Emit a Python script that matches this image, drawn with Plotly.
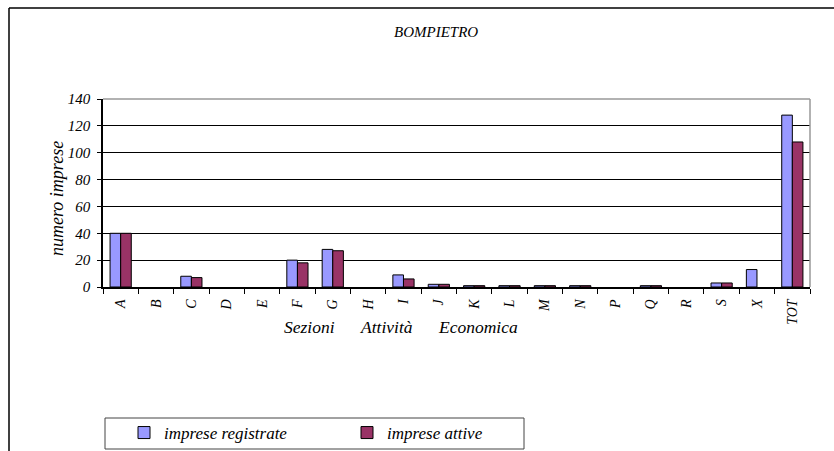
import plotly.graph_objects as go

categories = ["A", "B", "C", "D", "E", "F", "G", "H", "I", "J", "K", "L", "M", "N", "P", "Q", "R", "S", "X", "TOT"]
registrate = [40, 0, 8, 0, 0, 20, 28, 0, 9, 2, 1, 1, 1, 1, 0, 1, 0, 3, 13, 128]
attive = [40, 0, 7, 0, 0, 18, 27, 0, 6, 2, 1, 1, 1, 1, 0, 1, 0, 3, 0, 108]
y_ticks = [0, 20, 40, 60, 80, 100, 120, 140]

FONT = "Liberation Serif, Times New Roman, Times, serif"
W, H = 834, 451
L, R, T, B = 103, 24, 99, 164
PW, PH = W - L - R, H - T - B


def px(x):
    return (x - L) / PW


def py(y):
    return (H - B - y) / PH


def outline(vals):
    # no visible outline for empty (zero) bars
    return [1 if v > 0 else 0 for v in vals]


fig = go.Figure()
fig.add_trace(go.Bar(x=categories, y=registrate, name="imprese registrate",
                     marker=dict(color="#9999FF", line=dict(color="black", width=outline(registrate)))))
fig.add_trace(go.Bar(x=categories, y=attive, name="imprese attive",
                     marker=dict(color="#993366", line=dict(color="black", width=outline(attive)))))

shapes = [
    dict(type="line", xref="paper", yref="paper", x0=0, x1=1, y0=1, y1=1,
         line=dict(color="#999999", width=1.5)),
    dict(type="line", xref="paper", yref="paper", x0=1, x1=1, y0=0, y1=1,
         line=dict(color="#999999", width=1.5)),
    dict(type="line", xref="paper", yref="paper", x0=px(9), x1=px(840), y0=py(8), y1=py(8),
         line=dict(color="black", width=1.5)),
    dict(type="line", xref="paper", yref="paper", x0=px(9), x1=px(9), y0=py(8), y1=py(460),
         line=dict(color="black", width=1.5)),
    dict(type="rect", xref="paper", yref="paper", x0=px(105), x1=px(524), y0=py(418), y1=py(449),
         line=dict(color="#444444", width=1), fillcolor="rgba(0,0,0,0)"),
]


def ann(text, x, y, size, angle=0):
    return dict(text=text, x=px(x), y=py(y), xref="paper", yref="paper", showarrow=False,
                xanchor="center", yanchor="middle", textangle=angle,
                font=dict(family=FONT, size=size, style="italic", color="black"))


annotations = [
    ann("BOMPIETRO", 436, 32, 15),
    ann("numero imprese", 57, 199, 18, -90),
    ann("Sezioni", 309, 327, 17.5),
    ann("Attività", 386, 327, 17.5),
    ann("Economica", 478, 327, 17.5),
]

fig.update_layout(
    width=W, height=H,
    margin=dict(l=L, r=R, t=T, b=B, autoexpand=False),
    paper_bgcolor="white", plot_bgcolor="white",
    barmode="group", bargap=0.4, bargroupgap=0,
    font=dict(family=FONT, size=13, style="italic", color="black"),
    showlegend=True,
    legend=dict(orientation="h", x=px(124), xanchor="left", y=py(433), yanchor="middle",
                bgcolor="rgba(0,0,0,0)", borderwidth=0, entrywidth=178, entrywidthmode="pixels",
                font=dict(family=FONT, size=17, style="italic", color="black")),
    shapes=shapes,
    annotations=annotations,
)
fig.update_xaxes(type="category", tickangle=-90, ticks="outside", tickson="boundaries", ticklen=5,
                 tickcolor="black", showline=True, linecolor="black", linewidth=1.5,
                 showgrid=False, ticklabelstandoff=5,
                 tickfont=dict(family=FONT, size=14, style="italic"))
fig.update_yaxes(range=[0, 140], tickvals=y_ticks, ticks="outside", ticklen=4, tickcolor="black",
                 showline=True, linecolor="black", linewidth=1.5, showgrid=True, gridcolor="black",
                 gridwidth=1, zeroline=False, ticklabelstandoff=4,
                 tickfont=dict(family=FONT, size=15, style="italic"))

fig.write_html("out.html", config={"displayModeBar": False},
               post_script="document.body.style.margin='0px';")
